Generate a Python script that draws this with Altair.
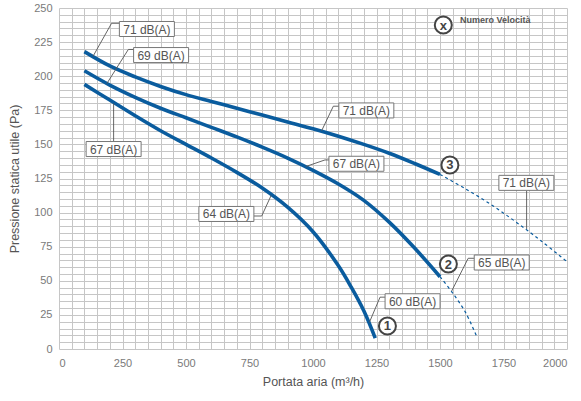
import altair as alt
import pandas as pd

# Fan curves: air flow (m3/h) vs available static pressure (Pa), speeds 1-3
flow_1 = [100, 200, 300, 400, 500, 600, 700, 800, 900, 1000, 1100, 1150, 1200, 1245]
pres_1 = [194, 182.5, 171, 160, 150, 140, 129.5, 118, 104, 86, 61, 45.5, 28, 8]

flow_2 = [100, 200, 300, 400, 500, 600, 700, 800, 900, 1000, 1100, 1200, 1300, 1400, 1500]
pres_2 = [204, 193.5, 184.5, 176.5, 169.5, 162.5, 155.5, 148, 140, 131, 121, 109, 93, 74, 53]
flow_2_ext = [1500, 1550, 1600, 1645]
pres_2_ext = [53, 41, 27, 9]

flow_3 = [100, 200, 300, 400, 500, 600, 700, 800, 900, 1000, 1100, 1200, 1300, 1400, 1500]
pres_3 = [218, 207.5, 199.5, 192.5, 186.5, 181.5, 176.5, 171.5, 166.5, 161.5, 156, 150, 143.5, 136, 128]
flow_3_ext = [1500, 1600, 1700, 1800, 1900, 2000]
pres_3_ext = [128, 117.5, 106, 93, 79, 64]

# Noise level callouts
label_text = ["71 dB(A)", "69 dB(A)", "67 dB(A)", "71 dB(A)", "67 dB(A)",
              "64 dB(A)", "60 dB(A)", "65 dB(A)", "71 dB(A)"]
label_x = [346, 402, 215, 1210, 1171, 659, 1392, 1743, 1840]
label_y = [234.6, 215.5, 146.6, 174.9, 135.8, 99, 35, 63.4, 121.8]

# Leader lines: (id, flow, pressure) points from curve to callout box
leader_id = [1, 1, 1, 2, 2, 2, 3, 3, 4, 4, 4, 5, 5, 5, 6, 6, 6, 7, 7, 7, 8, 8, 8, 9, 9]
leader_x = [134, 207, 237, 188, 273, 297, 215, 215, 1034, 1080, 1103, 972, 1047, 1064,
            835, 798, 767, 1222, 1264, 1287, 1546, 1611, 1635, 1841, 1841]
leader_y = [214.6, 238.8, 238.8, 194.5, 219.6, 219.6, 180, 152, 160, 178, 178, 133.8, 138.6, 138.6,
            112.5, 97.5, 97.5, 19.5, 38, 38, 42.5, 66.5, 66.5, 116, 88]

# Speed number markers
speed_text = ["1", "2", "3", "x"]
speed_x = [1293, 1533, 1539, 1513]
speed_y = [16.9, 62.3, 134.9, 237.5]

legend_text = ["Numero Velocità"]
legend_x = [1579]
legend_y = [241.5]

BLUE = "#0a5c9e"
FONT = "Liberation Sans"


def frame(x, y, series):
    return pd.DataFrame({"q": x, "p": y, "s": series})


solid = pd.concat([frame(flow_1, pres_1, "1"), frame(flow_2, pres_2, "2"), frame(flow_3, pres_3, "3")])
dashed = pd.concat([frame(flow_2_ext, pres_2_ext, "2"), frame(flow_3_ext, pres_3_ext, "3")])

x_scale = alt.Scale(domain=[0, 2000], nice=False, zero=False)
y_scale = alt.Scale(domain=[0, 250], nice=False, zero=False)

x_axis = alt.Axis(
    title="Portata aria (m³/h)",
    values=list(range(0, 2001, 50)),
    labelExpr="datum.value % 250 == 0 ? datum.label : ''",
    labelOverlap=False, ticks=False, domain=False, format="d",
    labelPadding=8, titlePadding=7,
)
y_axis = alt.Axis(
    title="Pressione statica utile (Pa)",
    values=list(range(0, 251, 5)),
    labelExpr="datum.value % 25 == 0 ? datum.label : ''",
    labelOverlap=False, ticks=False, domain=False, format="d",
    labelPadding=7, titlePadding=12,
)

X = alt.X("q:Q", scale=x_scale, axis=x_axis)
Y = alt.Y("p:Q", scale=y_scale, axis=y_axis)

curves = alt.Chart(solid).mark_line(
    color=BLUE, strokeWidth=3.6, interpolate="catmull-rom", strokeCap="butt"
).encode(x=X, y=Y, detail="s:N")

ext = alt.Chart(dashed).mark_line(
    color=BLUE, strokeWidth=1.2, strokeDash=[3, 3], interpolate="catmull-rom"
).encode(x=X, y=Y, detail="s:N")

leaders = alt.Chart(pd.DataFrame({"id": leader_id, "q": leader_x, "p": leader_y, "o": range(len(leader_id))})).mark_line(
    color="#555555", strokeWidth=0.9
).encode(x=X, y=Y, detail="id:N", order="o:Q")

labels_df = pd.DataFrame({"t": label_text, "q": label_x, "p": label_y})
boxes = alt.Chart(labels_df).mark_point(
    shape="M-1,-0.273L1,-0.273L1,0.273L-1,0.273Z", size=3025, filled=False,
    fill="white", fillOpacity=1, stroke="#777777", strokeWidth=1, opacity=1
).encode(x=X, y=Y)
box_text = alt.Chart(labels_df).mark_text(
    font=FONT, fontSize=12, color="#555555", align="center", baseline="middle", dy=0.5
).encode(x=X, y=Y, text="t:N")

speed_df = pd.DataFrame({"t": speed_text, "q": speed_x, "p": speed_y})
circles = alt.Chart(speed_df).mark_point(
    shape="circle", size=290, filled=False, fill="white", fillOpacity=1,
    stroke="#444444", strokeWidth=2, opacity=1
).encode(x=X, y=Y)
circle_text = alt.Chart(speed_df).mark_text(
    font=FONT, fontSize=13, fontWeight="bold", color="#444444", align="center", baseline="middle", dy=0.5
).encode(x=X, y=Y, text="t:N")

legend = alt.Chart(pd.DataFrame({"t": legend_text, "q": legend_x, "p": legend_y})).mark_text(
    font=FONT, fontSize=9, fontWeight="bold", color="#555555", align="left", baseline="middle"
).encode(x=X, y=Y, text="t:N")

chart = alt.layer(
    curves, ext, leaders, boxes, box_text, circles, circle_text, legend
).properties(
    width=508, height=341,
    autosize=alt.AutoSizeParams(type="none"),
    padding={"left": 59, "top": 8, "right": 14, "bottom": 52},
    background="white",
).configure_view(
    stroke=None
).configure_axis(
    gridColor="#c6c6c6", gridWidth=1, gridOpacity=1,
    labelFont=FONT, labelFontSize=11, labelColor="#7a7a7a",
    titleFont=FONT, titleFontSize=12.5, titleFontWeight="normal", titleColor="#555555",
)

chart.save("out.html", embed_options={"renderer": "svg", "actions": False})
